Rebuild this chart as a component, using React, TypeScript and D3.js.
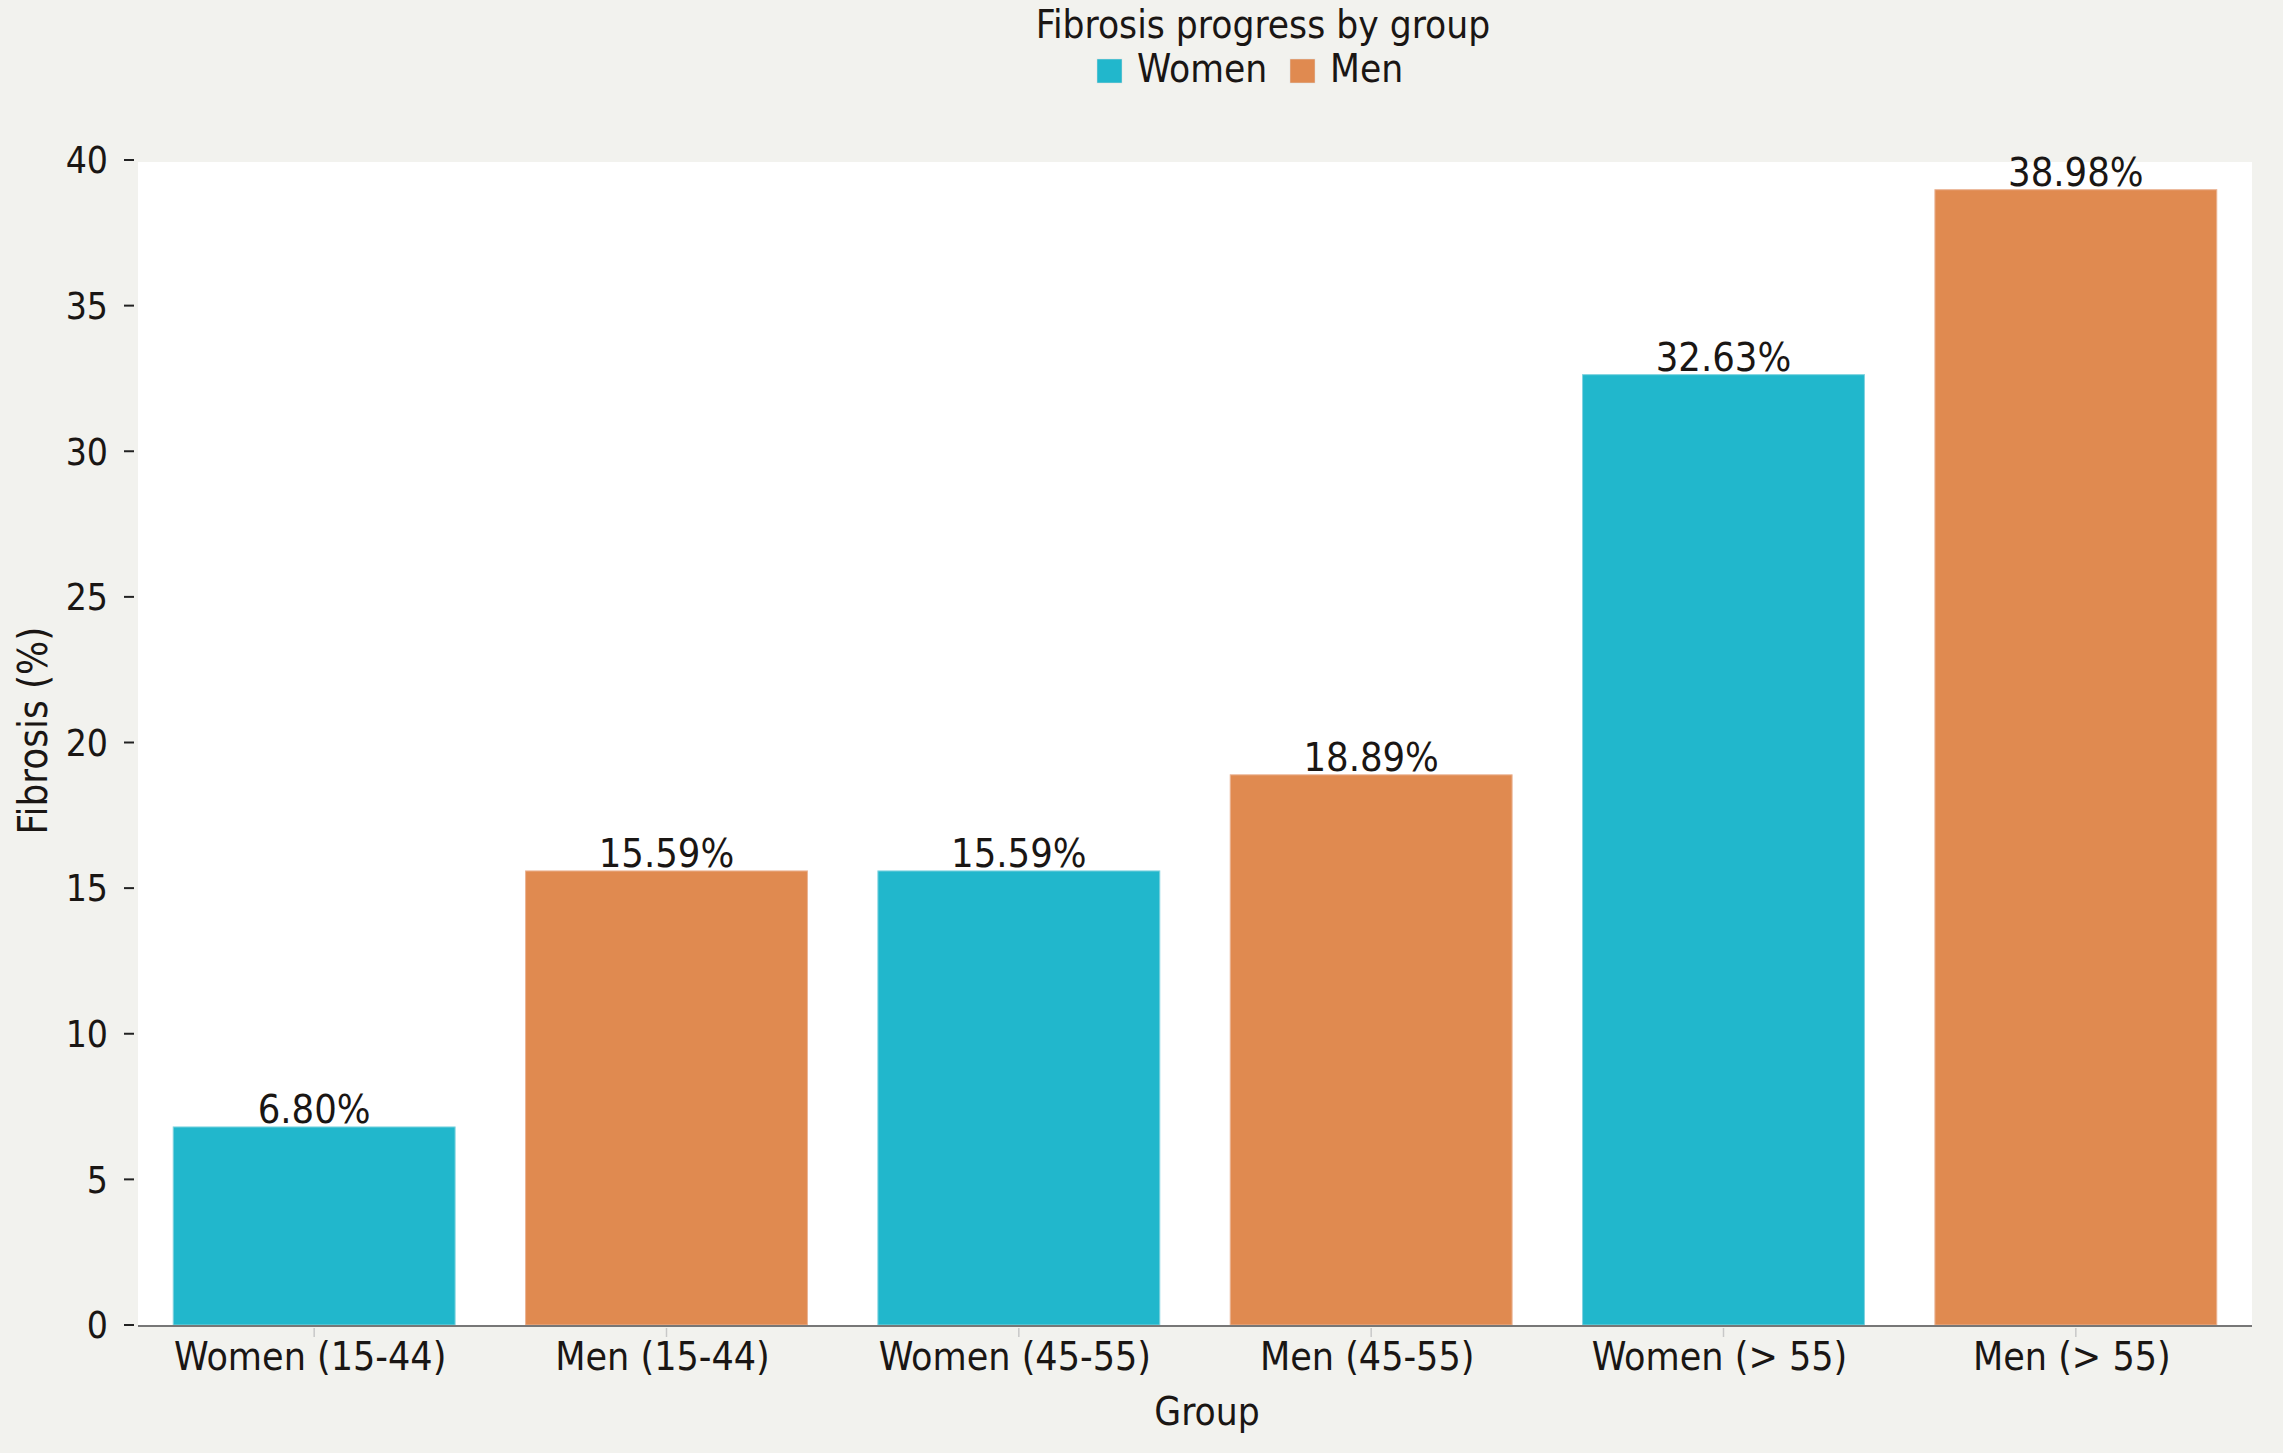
import React, { useEffect } from "react";
import * as d3 from "d3";

const categories = ["Women (15-44)", "Men (15-44)", "Women (45-55)", "Men (45-55)", "Women (> 55)", "Men (> 55)"];
const sexes = ["Women", "Men", "Women", "Men", "Women", "Men"];
const values = [6.8, 15.59, 15.59, 18.89, 32.63, 38.98];
const valueLabels = ["6.80%", "15.59%", "15.59%", "18.89%", "32.63%", "38.98%"];
const yTicks = [0, 5, 10, 15, 20, 25, 30, 35, 40];
const legendKeys = ["Women", "Men"];

const W = 2283;
const H = 1453;
const FONT = "'DejaVu Sans Condensed', 'DejaVu Sans', sans-serif";
const COLORS: Record<string, string> = { Women: "#21B7CC", Men: "#E08A50" };

export default function App() {
  useEffect(() => {
    document.body.style.margin = "0";
    document.body.style.background = "#F2F2EE";
  }, []);

  const left = 138;
  const right = 2252;
  const bottom = 1325;
  const yMax = 39.93;
  const y = d3.scaleLinear().domain([0, 40]).range([bottom, 160]);
  const x = d3.scaleBand<string>().domain(categories).range([left, right]).paddingInner(0.2).paddingOuter(0.1);
  const top = y(yMax);

  const textStyle = { fontFamily: FONT, fontStretch: "condensed" as const, fill: "#1a1614" };

  return (
    <svg width={W} height={H} style={{ position: "absolute", left: 0, top: 0, display: "block", background: "#F2F2EE" }}>
      <rect x={0} y={0} width={W} height={H} fill="#F2F2EE" />
      <rect x={left} y={top} width={right - left} height={bottom - top} fill="#FFFFFF" />

      {categories.map((c, i) => (
        <g key={c}>
          <rect
            x={x(c)!}
            y={y(values[i])}
            width={x.bandwidth()}
            height={bottom - y(values[i])}
            fill={COLORS[sexes[i]]}
            stroke={sexes[i] === "Women" ? "#7fd3df" : "#eab393"}
            strokeWidth={1}
          />
          <text
            x={x(c)! + x.bandwidth() / 2}
            y={y(values[i]) - 4}
            textAnchor="middle"
            fontSize={39.5}
            style={textStyle}
          >
            {valueLabels[i]}
          </text>
          <line
            x1={x(c)! + x.bandwidth() / 2}
            x2={x(c)! + x.bandwidth() / 2}
            y1={bottom + 3}
            y2={bottom + 12}
            stroke="#c8c8c8"
            strokeWidth={1.5}
          />
          <text
            x={x(c)! + x.bandwidth() / 2 - 4}
            y={1370}
            textAnchor="middle"
            fontSize={39}
            style={textStyle}
          >
            {c}
          </text>
        </g>
      ))}

      <line x1={left} x2={right} y1={bottom + 1} y2={bottom + 1} stroke="#777" strokeWidth={2} />

      {yTicks.map((t) => (
        <g key={t}>
          <line x1={124} x2={134} y1={y(t)} y2={y(t)} stroke="#222" strokeWidth={2} />
          <text x={108} y={y(t)} dy="0.36em" textAnchor="end" fontSize={37} style={textStyle}>
            {t}
          </text>
        </g>
      ))}

      <text x={1207} y={1425} textAnchor="middle" fontSize={38.5} style={textStyle}>
        Group
      </text>
      <text
        transform={`translate(47, ${(top + bottom) / 2 - 13}) rotate(-90)`}
        textAnchor="middle"
        fontSize={40}
        style={textStyle}
      >
        Fibrosis (%)
      </text>

      <text x={1263} y={38} textAnchor="middle" fontSize={38.5} style={textStyle}>
        Fibrosis progress by group
      </text>
      {legendKeys.map((k, i) => {
        const lx = i === 0 ? 1097 : 1290;
        return (
          <g key={k}>
            <rect x={lx} y={59} width={25} height={24} fill={COLORS[k]} stroke="#ddd" strokeWidth={0.5} />
            <text x={lx + 40} y={82} fontSize={38.5} style={textStyle}>
              {k}
            </text>
          </g>
        );
      })}
    </svg>
  );
}
